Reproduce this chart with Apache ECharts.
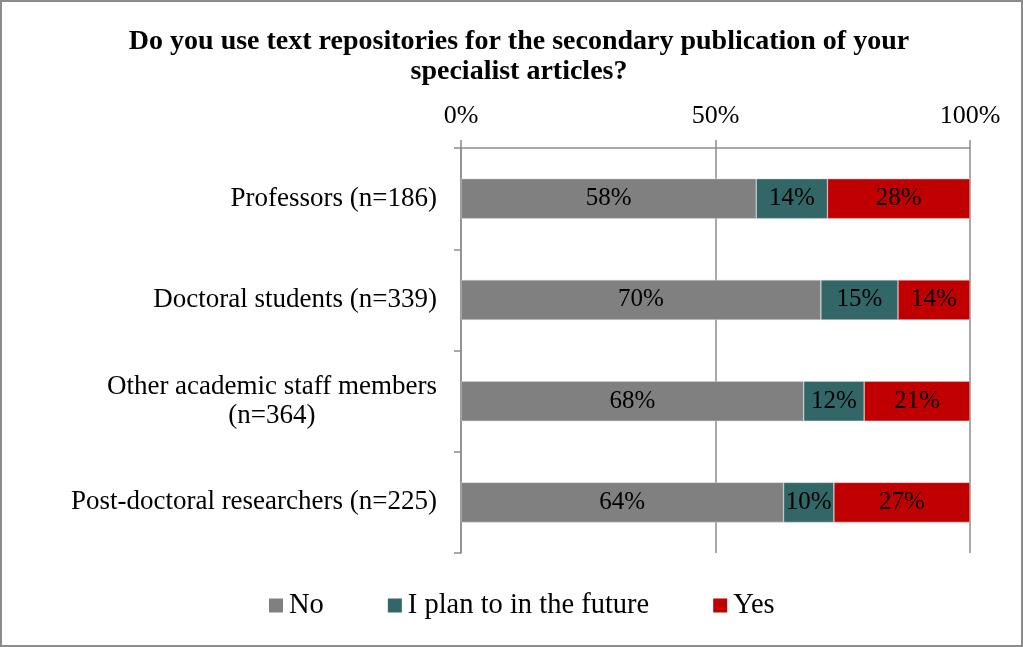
<!DOCTYPE html>
<html>
<head>
<meta charset="utf-8">
<script src="https://cdn.jsdelivr.net/npm/echarts@6/dist/echarts.min.js"></script>
<style>
  html, body { margin: 0; padding: 0; background: #fff; }
  #chart { width: 1023px; height: 647px; box-sizing: border-box; border: 2px solid #8c8c8c; }
</style>
</head>
<body>
<div id="chart"></div>
<script>
// Survey groups (top to bottom)
const categories = [
  'Professors (n=186)',
  'Doctoral students (n=339)',
  'Other academic staff members\n(n=364)',
  'Post-doctoral researchers (n=225)'
];
// Reported shares per answer, in percent
const noValues = [58, 70, 68, 64];
const planValues = [14, 15, 12, 10];
const yesValues = [28, 14, 21, 27];
const seriesNames = ['No', 'I plan to in the future', 'Yes'];
const seriesColors = ['#808080', '#336666', '#C00000'];
const xTicks = [0, 50, 100];

const FONT = 'Liberation Serif';
const LABEL_SIZE = 27;
const groups = [noValues, planValues, yesValues];
const totals = categories.map((_, i) => groups.reduce((s, g) => s + g[i], 0));

// Multi-line category labels: right-aligned block, each line centred within it
const ctx = document.createElement('canvas').getContext('2d');
ctx.font = LABEL_SIZE + 'px "' + FONT + '"';
const measure = s => ctx.measureText(s).width;
function categoryLabel(text) {
  const lines = text.split('\n');
  if (lines.length === 1) return text;
  return lines.map((l, i) => '{l' + i + '|' + l + '}').join('\n');
}
function categoryRich() {
  const rich = {};
  categories.forEach(text => {
    const lines = text.split('\n');
    if (lines.length === 1) return;
    const widths = lines.map(measure);
    const maxW = Math.max(...widths);
    lines.forEach((l, i) => {
      rich['l' + i] = {
        fontFamily: FONT, fontSize: LABEL_SIZE, color: '#000', lineHeight: 29,
        padding: [0, (maxW - widths[i]) / 2, 0, 0]
      };
    });
  });
  return rich;
}

const chart = echarts.init(document.getElementById('chart'));
chart.setOption({
  animation: false,
  textStyle: { fontFamily: FONT, color: '#000' },
  title: {
    text: 'Do you use text repositories for the secondary publication of your\nspecialist articles?',
    left: 512,
    top: 20,
    textAlign: 'center',
    textStyle: { fontFamily: FONT, fontSize: 28, fontWeight: 'bold', color: '#000', lineHeight: 30 }
  },
  legend: {
    top: 584,
    left: 262,
    itemWidth: 14,
    itemHeight: 14,
    itemGap: 64,
    icon: 'rect',
    itemStyle: { borderWidth: 0 },
    textStyle: { fontFamily: FONT, fontSize: 28.5, color: '#000', padding: [0, 0, 0, 1] },
    data: seriesNames
  },
  grid: { left: 459, right: 51, top: 146, bottom: 92, containLabel: false },
  xAxis: {
    type: 'value',
    position: 'top',
    min: 0,
    max: 100,
    interval: 50,
    axisLine: { show: true, lineStyle: { color: '#8c8c8c', width: 1.5 } },
    axisTick: { show: true, length: 8, lineStyle: { color: '#8c8c8c', width: 1.5 } },
    splitLine: { show: true, lineStyle: { color: '#8c8c8c', width: 1.5 } },
    axisLabel: {
      fontFamily: FONT, fontSize: 26, color: '#000', margin: 19,
      formatter: v => xTicks.includes(v) ? v + '%' : ''
    }
  },
  yAxis: {
    type: 'category',
    inverse: true,
    data: categories,
    axisLine: { show: true, lineStyle: { color: '#8c8c8c', width: 1.5 } },
    axisTick: { show: true, length: 7, lineStyle: { color: '#8c8c8c', width: 1.5 } },
    axisLabel: {
      fontFamily: FONT, fontSize: LABEL_SIZE, color: '#000', margin: 24,
      align: 'right', lineHeight: 29,
      formatter: categoryLabel,
      rich: categoryRich()
    }
  },
  series: groups.map((vals, k) => ({
    name: seriesNames[k],
    type: 'bar',
    stack: 'total',
    barWidth: 40,
    itemStyle: { color: seriesColors[k], borderColor: '#d9d9d9', borderWidth: 0.5 },
    label: {
      show: true,
      position: 'inside',
      fontFamily: FONT,
      fontSize: 25,
      color: '#000',
      formatter: p => vals[p.dataIndex] + '%'
    },
    data: vals.map((v, i) => v / totals[i] * 100)
  }))
});
</script>
</body>
</html>
